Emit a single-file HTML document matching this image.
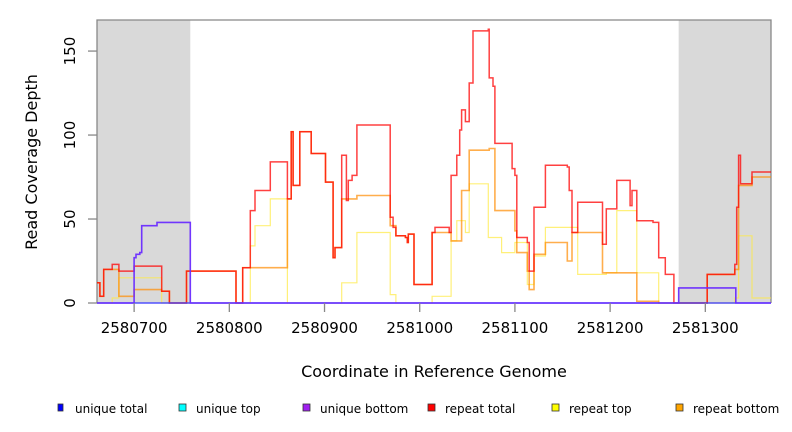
<!DOCTYPE html>
<html><head><meta charset="utf-8"><style>
body{margin:0;background:#fff;}
svg{display:block;font-family:"DejaVu Sans","Liberation Sans",sans-serif;}
</style></head><body>
<svg id="chart" width="792" height="432" viewBox="0 0 792 432"></svg>
<script>
const xTicks=[2580700,2580800,2580900,2581000,2581100,2581200,2581300];
const yTicks=[0,50,100,150];
const shadedRegions=[[2580661,2580759],[2581272,2581369]];
const totalPos=[661,664,668,677,684,700,715,729,737,755,807,814,822,827,843,861,865,867,874,886,901,909,911,918,923,925,929,934,969,972,975,985,987,988,994,1013,1016,1031,1033,1039,1042,1044,1048,1052,1056,1072,1073,1077,1079,1086,1097,1100,1102,1113,1115,1120,1132,1155,1157,1160,1166,1192,1196,1207,1221,1223,1228,1245,1251,1258,1267,1302,1331,1333,1335,1337,1349,1369];
const totalVal=[12,4,20,23,19,22,22,7,0,19,0,21,55,67,84,62,102,70,102,89,72,27,33,88,61,73,76,106,51,45,40,39,36,41,11,42,45,42,76,88,103,115,108,131,162,163,134,129,95,95,80,76,39,36,19,57,82,81,67,42,60,35,56,73,58,67,49,48,27,17,0,17,23,57,88,71,78,78];
const topPos=[661,677,684,729,822,827,843,861,918,934,969,975,994,1013,1033,1039,1048,1052,1072,1086,1100,1113,1120,1132,1155,1166,1196,1207,1221,1228,1251,1331,1335,1349,1369];
const topVal=[0,3,15,0,34,46,62,0,12,42,5,0,0,4,37,49,42,71,39,30,36,11,28,45,45,17,18,55,55,18,0,3,40,3,3];
const botPos=[661,664,668,677,684,700,729,737,755,807,814,861,865,867,874,886,901,909,911,918,934,969,975,985,987,988,994,1013,1031,1033,1044,1052,1073,1079,1100,1102,1113,1115,1120,1132,1155,1160,1166,1192,1207,1228,1251,1302,1331,1335,1349,1369];
const botVal=[12,4,20,20,4,8,7,0,19,0,21,62,102,70,102,89,72,27,33,62,64,46,40,39,36,41,11,42,42,37,67,91,92,55,43,30,19,8,29,36,25,42,42,18,18,1,0,17,20,70,75,75];
const uBotPos=[661,700,702,706,708,724,759,1272,1332,1369];
const uBotVal=[0,27,29,30,46,48,0,9,0,0];
const uTotPos=[661,1369];
const uTotVal=[0,0];
const legendLabels=["unique total","unique top","unique bottom","repeat total","repeat top","repeat bottom"];
const legendColors=["#0000ff","#00ffff","#a020f0","#ff0000","#ffff00","#ffa500"];

const NS="http://www.w3.org/2000/svg";
const svg=document.getElementById('chart');
const X0=97,X1=771,Y0=303,Y1=20;
const xMin=2580661,xMax=2581369,yMax=168.5;
function xs(v){return X0+(v-xMin)/(xMax-xMin)*(X1-X0);}
function ys(v){return Y0-v/yMax*(Y0-Y1);}
function mk(tag,attrs){const e=document.createElementNS(NS,tag);for(const k in attrs)e.setAttribute(k,attrs[k]);svg.appendChild(e);return e;}

mk('rect',{x:X0,y:Y1,width:X1-X0,height:Y0-Y1,fill:'#fff'});
shadedRegions.forEach((r,i)=>{
  const e=mk('rect',{x:xs(r[0]),y:Y1,width:xs(r[1])-xs(r[0]),height:Y0-Y1,fill:'#d9d9d9'});
  
  
});
const frame=mk('path',{d:`M${X0},${Y0}V${Y1}H${X1}V${Y0}`,fill:'none',stroke:'#888','stroke-width':1.3});



function stepPath(pos,val){
  let d='';
  for(let i=0;i<val.length;i++){
    const x=xs(2580000+pos[i]),y=ys(val[i]);
    const xn=i+1<pos.length?xs(2580000+pos[i+1]):xs(2580000+pos[i]);
    d+=(i===0?'M':'L')+x.toFixed(1)+','+y.toFixed(1)+'L'+xn.toFixed(1)+','+y.toFixed(1);
  }
  return d;
}
function series(pos,val,color,w,op,name){
  const e=mk('path',{d:stepPath(pos,val),fill:'none',stroke:color,'stroke-width':w,opacity:op,'stroke-linejoin':'miter'});
  
  
}
series(topPos,topVal,'#ffea40',1.2,0.7,'repeat-top-line');
series(botPos,botVal,'#ff8c00',1.6,0.7,'repeat-bottom-line');
series(totalPos,totalVal,'#ff0000',1.5,0.75,'repeat-total-line');
series(uTotPos,uTotVal,'#4040ff',1.6,0.9,'unique-total-line');
series(uBotPos,uBotVal,'#6a2cff',1.6,0.95,'unique-bottom-line');

xTicks.forEach(t=>{
  const x=xs(t);
  const l=mk('line',{x1:x,y1:Y0,x2:x,y2:Y0+9,stroke:'#888','stroke-width':1.3});
  
  
  const tx=mk('text',{x:x,y:Y0+30,'text-anchor':'middle','font-size':15,fill:'#000'});
  tx.textContent=t;
  
  
});
yTicks.forEach(t=>{
  const y=ys(t);
  const l=mk('line',{x1:X0-9,y1:y,x2:X0,y2:y,stroke:'#888','stroke-width':1.3});
  
  
  const tx=mk('text',{x:0,y:0,'text-anchor':'middle','font-size':15,fill:'#000',transform:`translate(75,${y}) rotate(-90)`});
  tx.textContent=t;
  
  
});
const xt=mk('text',{x:434,y:377,'text-anchor':'middle','font-size':16,fill:'#000'});
xt.textContent='Coordinate in Reference Genome';


const yt=mk('text',{x:0,y:0,'text-anchor':'middle','font-size':16,fill:'#000',transform:'translate(37,162) rotate(-90)'});
yt.textContent='Read Coverage Depth';



const legX=[58,179,303,428,552,676];
legendLabels.forEach((lab,i)=>{
  const r=mk('rect',{x:legX[i],y:404,width:i===0?5:7,height:7,fill:legendColors[i],stroke:'#333','stroke-width':0.8});
  
  
  const t=mk('text',{x:legX[i]+17,y:413,'font-size':12,fill:'#000'});
  t.textContent=lab;
  
  
});
</script>
</body></html>
